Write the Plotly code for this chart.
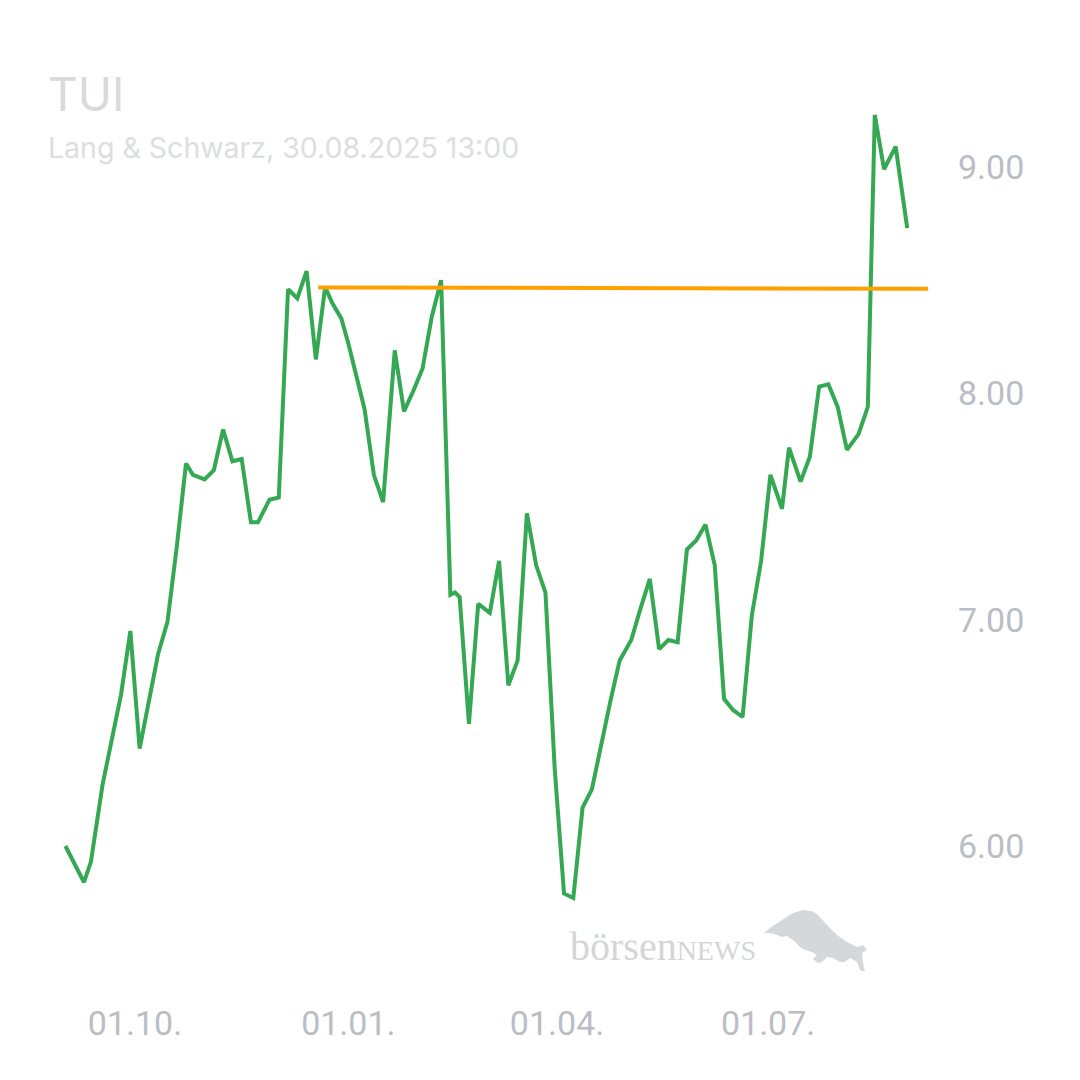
import plotly.graph_objects as go

# ---------------- data ----------------
dates = [
    "2024-09-01", "2024-09-09", "2024-09-12", "2024-09-17", "2024-09-21", "2024-09-25", "2024-09-29",
    "2024-10-03", "2024-10-07", "2024-10-11", "2024-10-15", "2024-10-19", "2024-10-23", "2024-10-26",
    "2024-10-31", "2024-11-04", "2024-11-08", "2024-11-12", "2024-11-16", "2024-11-20", "2024-11-23",
    "2024-11-28", "2024-12-02", "2024-12-06", "2024-12-10", "2024-12-14", "2024-12-18", "2024-12-22",
    "2024-12-25", "2024-12-29", "2025-01-01", "2025-01-04", "2025-01-08", "2025-01-12", "2025-01-16",
    "2025-01-21", "2025-01-25", "2025-01-29", "2025-02-02", "2025-02-06", "2025-02-10", "2025-02-14",
    "2025-02-16", "2025-02-18", "2025-02-22", "2025-02-26", "2025-03-03", "2025-03-07", "2025-03-11",
    "2025-03-15", "2025-03-19", "2025-03-23", "2025-03-27", "2025-03-31", "2025-04-04", "2025-04-08",
    "2025-04-12", "2025-04-16", "2025-04-20", "2025-04-24", "2025-04-28", "2025-05-03", "2025-05-07",
    "2025-05-11", "2025-05-15", "2025-05-19", "2025-05-23", "2025-05-27", "2025-05-31", "2025-06-04",
    "2025-06-08", "2025-06-12", "2025-06-16", "2025-06-20", "2025-06-24", "2025-06-28", "2025-07-02",
    "2025-07-07", "2025-07-10", "2025-07-15", "2025-07-19", "2025-07-23", "2025-07-27", "2025-07-31",
    "2025-08-04", "2025-08-09", "2025-08-13", "2025-08-16", "2025-08-20", "2025-08-25", "2025-08-30",
]
prices = [
    6.00, 5.84, 5.93, 6.27, 6.47, 6.67, 6.95,
    6.43, 6.64, 6.85, 6.99, 7.32, 7.69, 7.64,
    7.62, 7.66, 7.84, 7.70, 7.71, 7.43, 7.43,
    7.53, 7.54, 8.46, 8.42, 8.54, 8.15, 8.47,
    8.40, 8.33, 8.22, 8.10, 7.93, 7.64, 7.52,
    8.19, 7.92, 8.01, 8.11, 8.34, 8.50, 7.11,
    7.12, 7.10, 6.54, 7.07, 7.03, 7.26, 6.71,
    6.82, 7.47, 7.24, 7.12, 6.34, 5.79, 5.77,
    6.17, 6.25, 6.45, 6.64, 6.82, 6.91, 7.05,
    7.18, 6.87, 6.91, 6.90, 7.31, 7.35, 7.42,
    7.24, 6.65, 6.60, 6.57, 7.02, 7.26, 7.64,
    7.49, 7.76, 7.61, 7.72, 8.03, 8.04, 7.94,
    7.75, 7.82, 7.94, 9.23, 8.99, 9.09, 8.73,
]

level_dates = ["2024-12-19", "2025-09-08"]
level_values = [8.468, 8.462]

x_tick_vals = ["2024-10-01", "2025-01-01", "2025-04-01", "2025-07-01"]
x_tick_text = ["01.10.", "01.01.", "01.04.", "01.07."]
y_tick_vals = [6, 7, 8, 9]
y_tick_text = ["6.00", "7.00", "8.00", "9.00"]

title_text = "TUI"
subtitle_text = "Lang & Schwarz, 30.08.2025 13:00"

# ---------------- layout geometry (pixels) ----------------
W, H = 1080, 1080
ML, MR, MT, MB = 0, 140, 100, 100
PW, PH = W - ML - MR, H - MT - MB


def px(x, y):
    """pixel -> paper coordinates"""
    return (x - ML) / PW, 1 - (y - MT) / PH


fig = go.Figure()

fig.add_trace(go.Scatter(
    x=dates, y=prices, mode="lines",
    line=dict(color="#34a853", width=4),
    hoverinfo="skip", showlegend=False,
))
fig.add_trace(go.Scatter(
    x=level_dates, y=level_values, mode="lines",
    line=dict(color="#ffa000", width=4),
    hoverinfo="skip", showlegend=False,
))

# watermark bull (decorative logo)
bull_px = [(762, 935), (770, 928), (782, 920), (793, 913), (803, 910), (812, 911), (818, 915),
           (827, 925), (837, 935), (847, 942), (857, 947), (863, 945), (867, 950), (862, 953),
           (863, 963), (865, 972), (860, 970), (857, 962), (850, 958), (845, 962), (840, 962),
           (833, 958), (827, 957), (822, 962), (818, 963), (813, 959), (817, 955), (812, 952),
           (805, 950), (800, 947), (793, 940), (787, 936), (782, 937), (777, 935), (770, 933),
           (765, 933)]
path = ""
for i, (bx, by) in enumerate(bull_px):
    X, Y = px(bx, by)
    path += ("M" if i == 0 else "L") + f"{X:.4f},{Y:.4f} "
path += "Z"
fig.add_shape(type="path", path=path, xref="paper", yref="paper",
              fillcolor="#d5d8db", line=dict(width=0), layer="below")

annos = []
tx, ty = px(46, 94)
annos.append(dict(text=title_text, x=tx, y=ty, xref="paper", yref="paper",
                  xanchor="left", yanchor="middle", showarrow=False,
                  font=dict(family="Inter", size=46, color="#d8dadd")))
sx, sy = px(46, 147)
annos.append(dict(text=subtitle_text, x=sx, y=sy, xref="paper", yref="paper",
                  xanchor="left", yanchor="middle", showarrow=False,
                  font=dict(family="Inter", size=28.5, color="#dcdee1")))
wx, wy = px(568, 946)
annos.append(dict(text="börsen<span style='font-size:28px'>NEWS</span>", x=wx, y=wy,
                  xref="paper", yref="paper", xanchor="left", yanchor="middle",
                  showarrow=False,
                  font=dict(family="Liberation Serif", size=40, color="#d3d6d9")))

fig.update_layout(
    width=W, height=H,
    margin=dict(l=ML, r=MR, t=MT, b=MB),
    paper_bgcolor="white", plot_bgcolor="white",
    annotations=annos,
    xaxis=dict(
        type="date",
        range=["2024-08-03 19:00", "2025-09-13 03:00"],
        tickvals=x_tick_vals, ticktext=x_tick_text,
        showgrid=False, zeroline=False, showline=False, ticks="",
        tickfont=dict(family="Roboto", size=34, color="#babec4"),
        ticklabelstandoff=20,
    ),
    yaxis=dict(
        side="right",
        range=[5.408, 9.296],
        tickvals=y_tick_vals, ticktext=y_tick_text,
        showgrid=False, zeroline=False, showline=False, ticks="",
        tickfont=dict(family="Roboto", size=34, color="#babec4"),
        ticklabelstandoff=17,
    ),
)

fig.write_html("out.html")
